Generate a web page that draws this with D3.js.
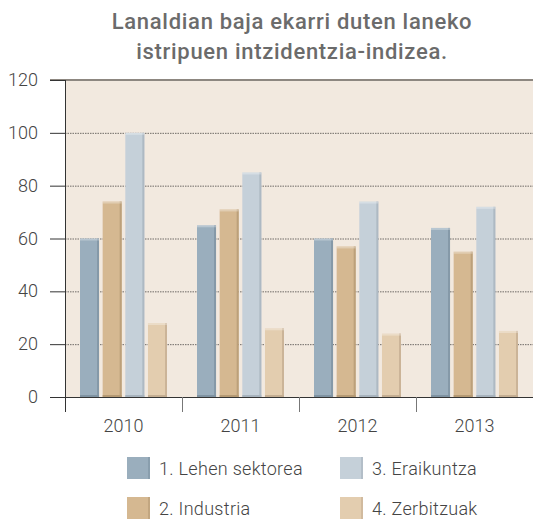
<!DOCTYPE html>
<html lang="eu">
<head>
<meta charset="UTF-8">
<title>Intzidentzia-indizea</title>
<script src="https://d3js.org/d3.v7.min.js"></script>
<style>
  html, body { margin: 0; padding: 0; background: #fff; }
  svg text { font-family: Roboto, "DejaVu Sans", sans-serif; }
</style>
</head>
<body>
<div id="chart"></div>
<script>
// data
const years = ["2010", "2011", "2012", "2013"];
const sectors = ["1. Lehen sektorea", "2. Industria", "3. Eraikuntza", "4. Zerbitzuak"];
const lehenSektorea = [60, 65, 60, 64];
const industria = [74, 71, 57, 55];
const eraikuntza = [100, 85, 74, 72];
const zerbitzuak = [28, 26, 24, 25];
const yTicks = [0, 20, 40, 60, 80, 100, 120];

const seriesValues = [lehenSektorea, industria, eraikuntza, zerbitzuak];
const colors = ["#9aaebd", "#d5b891", "#c5d0d9", "#e3cdaf"];
const edgeColors = ["#7f93a2", "#b59a74", "#a7b3bd", "#c4ae92"];

const width = 533, height = 519;
const plotLeft = 65, plotRight = 533, plotTop = 80, plotBottom = 397;

const svg = d3.select("#chart").append("svg")
  .attr("width", width)
  .attr("height", height);

// title
const titleLines = ["Lanaldian baja ekarri duten laneko", "istripuen intzidentzia-indizea."];
svg.append("g").selectAll("text")
  .data(titleLines)
  .join("text")
  .attr("x", 292).attr("y", (d, i) => 29 + i * 30)
  .attr("text-anchor", "middle")
  .attr("font-size", 22).attr("font-weight", 500)
  .attr("letter-spacing", 0.7)
  .attr("fill", "#6b6b6b")
  .text(d => d);

const y = d3.scaleLinear().domain([0, 120]).range([plotBottom, plotTop]);
const x0 = d3.scaleBand().domain(years).range([plotLeft, plotRight]);
const x1 = d3.scaleBand().domain(d3.range(sectors.length))
  .range([15, x0.bandwidth() - 15]).paddingInner(0.16);

// plot background
svg.append("rect")
  .attr("x", plotLeft).attr("y", plotTop)
  .attr("width", plotRight - plotLeft).attr("height", plotBottom - plotTop)
  .attr("fill", "#f2e9df");

// grid lines
svg.append("g").selectAll("line")
  .data(yTicks.filter(d => d > 0 && d < 120))
  .join("line")
  .attr("x1", plotLeft).attr("x2", plotRight)
  .attr("y1", d => y(d) + 0.5).attr("y2", d => y(d) + 0.5)
  .attr("stroke", "#6f6a66")
  .attr("stroke-width", 1)
  .attr("stroke-dasharray", "1.5,1");

// top line at 120
svg.append("line")
  .attr("x1", 50).attr("x2", plotRight)
  .attr("y1", y(120)).attr("y2", y(120))
  .attr("stroke", "#8d8780").attr("stroke-width", 2);

// bars
const groups = svg.append("g").selectAll("g")
  .data(years)
  .join("g")
  .attr("transform", d => `translate(${x0(d)},0)`);

groups.each(function(year, yi) {
  const g = d3.select(this);
  const vals = seriesValues.map(s => s[yi]);
  g.selectAll("rect.bar")
    .data(vals)
    .join("rect")
    .attr("class", "bar")
    .attr("x", (d, i) => x1(i))
    .attr("y", d => y(d))
    .attr("width", x1.bandwidth())
    .attr("height", d => plotBottom - y(d))
    .attr("fill", (d, i) => colors[i]);
  // darker right edge
  g.selectAll("rect.edge")
    .data(vals)
    .join("rect")
    .attr("class", "edge")
    .attr("x", (d, i) => x1(i) + x1.bandwidth() - 2)
    .attr("y", d => y(d))
    .attr("width", 2)
    .attr("height", d => plotBottom - y(d))
    .attr("fill", (d, i) => edgeColors[i])
    .attr("opacity", 0.8);
  // light top
  g.selectAll("rect.cap")
    .data(vals)
    .join("rect")
    .attr("class", "cap")
    .attr("x", (d, i) => x1(i))
    .attr("y", d => y(d))
    .attr("width", x1.bandwidth())
    .attr("height", 2)
    .attr("fill", "#ffffff")
    .attr("opacity", 0.3);
  // dark base
  g.selectAll("rect.base")
    .data(vals)
    .join("rect")
    .attr("class", "base")
    .attr("x", (d, i) => x1(i))
    .attr("y", plotBottom - 2)
    .attr("width", x1.bandwidth())
    .attr("height", 2)
    .attr("fill", (d, i) => edgeColors[i]);
});

// y axis
const yAxis = svg.append("g");
yAxis.append("line")
  .attr("x1", plotLeft + 0.5).attr("x2", plotLeft + 0.5)
  .attr("y1", plotTop).attr("y2", plotBottom + 15)
  .attr("stroke", "#333");
yAxis.selectAll("line.tick")
  .data(yTicks)
  .join("line")
  .attr("class", "tick")
  .attr("x1", 50).attr("x2", plotLeft)
  .attr("y1", d => y(d) + 0.5).attr("y2", d => y(d) + 0.5)
  .attr("stroke", "#333");
yAxis.selectAll("text")
  .data(yTicks)
  .join("text")
  .attr("x", 38).attr("y", d => y(d) + 6)
  .attr("text-anchor", "end")
  .attr("font-size", 18).attr("font-weight", 300)
  .attr("fill", "#444")
  .text(d => d);

// x axis
const xAxis = svg.append("g");
xAxis.append("line")
  .attr("x1", 50).attr("x2", plotRight)
  .attr("y1", plotBottom + 0.5).attr("y2", plotBottom + 0.5)
  .attr("stroke", "#333");
xAxis.selectAll("line.tick")
  .data(years.slice(1))
  .join("line")
  .attr("class", "tick")
  .attr("x1", d => Math.round(x0(d)) + 0.5).attr("x2", d => Math.round(x0(d)) + 0.5)
  .attr("y1", plotBottom).attr("y2", plotBottom + 15)
  .attr("stroke", "#777");
xAxis.selectAll("text")
  .data(years)
  .join("text")
  .attr("x", d => x0(d) + x0.bandwidth() / 2)
  .attr("y", 432)
  .attr("text-anchor", "middle")
  .attr("font-size", 18).attr("font-weight", 300)
  .attr("fill", "#444")
  .text(d => d);

// legend
const legendPos = [[127, 457], [127, 497], [340, 457], [340, 497]];
const legend = svg.append("g").selectAll("g")
  .data(sectors)
  .join("g")
  .attr("transform", (d, i) => `translate(${legendPos[i][0]},${legendPos[i][1]})`);
legend.append("rect")
  .attr("width", 23).attr("height", 22)
  .attr("fill", (d, i) => colors[i]);
legend.append("rect")
  .attr("x", 21).attr("width", 2).attr("height", 22)
  .attr("fill", (d, i) => edgeColors[i]).attr("opacity", 0.6);
legend.append("text")
  .attr("x", 32).attr("y", 18)
  .attr("font-size", 18).attr("font-weight", 300)
  .attr("letter-spacing", 0.3)
  .attr("fill", "#444")
  .text(d => d);
</script>
</body>
</html>
